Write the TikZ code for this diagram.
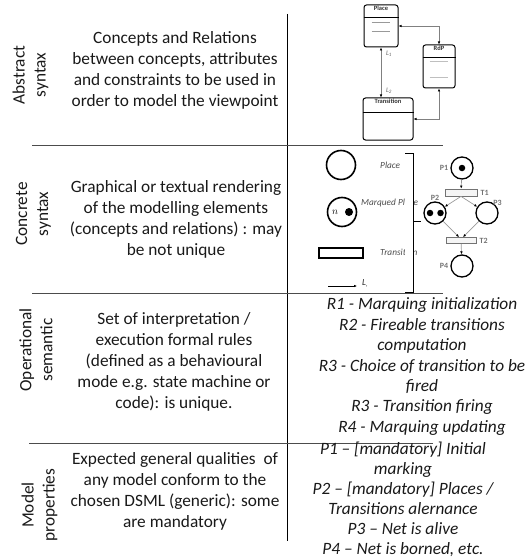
\documentclass[tikz,border=0pt]{standalone}
\usepackage{fontspec}
\setmainfont{Carlito}
\usetikzlibrary{arrows.meta,positioning,calc}

\begin{document}
\begin{tikzpicture}[x=1pt,y=-1pt,>={Latex[length=3pt,width=2.6pt,color=black]},
  txt/.style={align=center,font=\fontsize{17.3}{21}\selectfont,text=black!90},
  rules/.style={align=center,font=\fontsize{17.3}{20.4}\selectfont\itshape,text=black!90},
  side/.style={rotate=90,align=center,font=\fontsize{17.3}{21}\selectfont,text=black!90},
  sep/.style={line width=0.9pt,black!70},
  cls/.style={draw,rounded corners=2.5pt,line width=1pt,inner sep=0pt},
  ttl/.style={font=\fontsize{6.5}{7}\selectfont\bfseries,text=black!80,inner sep=1pt},
  lnk/.style={<->,black!50,line width=0.6pt},
  attr/.style={black!40,line width=0.4pt},
  big/.style={circle,draw,line width=1.6pt,minimum size=29pt,inner sep=0pt},
  small/.style={font=\fontsize{9.3}{10}\selectfont\itshape,text=black!70,inner sep=0pt},
  pl/.style={circle,draw,line width=1.3pt,minimum size=22pt,inner sep=0pt},
  tr/.style={draw=black!55,fill=black!4,line width=0.8pt,minimum width=32pt,minimum height=7pt,inner sep=0pt},
  tok/.style={circle,fill=black,minimum size=6.5pt,inner sep=0pt},
  pn/.style={font=\fontsize{8}{9}\selectfont\bfseries,text=black!55,inner sep=1pt},
  arc/.style={->,black!40,line width=0.7pt}]
\useasboundingbox (0,0) rectangle (531,559);

% table lines
\draw[line width=0.8pt] (287,14) -- (287,541);
\draw[sep] (32,145) -- (443,145);
\draw[sep] (32,293) -- (443,293);
\draw[sep] (29,443) -- (433,443);

% row titles
\node[side] (abs) at (30.5,75) {Abstract\\syntax};
\node[side] (con) at (33.5,214) {Concrete\\syntax};
\node[side] (ope) at (36,350) {Operational\\semantic};
\node[side] (mod) at (39.5,505) {Model\\properties};

% descriptions
\node[txt] (dabs) at (175,70) {Concepts and Relations\\between concepts, attributes\\and constraints to be used in\\order to model the viewpoint};
\node[txt] (dcon) at (176,219) {Graphical or textual rendering\\of the modelling elements\\(concepts and relations) : may\\be not unique};
\node[txt] (dope) at (174,362) {Set of interpretation /\\execution formal rules\\(defined as a behavioural\\mode e.g. state machine or\\code): is unique.};
\node[txt] (dmod) at (175,491) {Expected general qualities\ \ of\\any model conform to the\\chosen DSML (generic): some\\are mandatory};

% rules and properties
\node[rules] (rope) at (422,366.5) {R1 - Marquing initialization\\R2 - Fireable transitions\\computation\\R3 - Choice of transition to be\\fired\\R3 - Transition firing\\R4 - Marquing updating};
\node[rules,font=\fontsize{17.3}{20.1}\selectfont\itshape] (rmod) at (403,499.5) {P1 – [mandatory] Initial\\marking\\P2 – [mandatory] Places /\\Transitions alernance\\P3 – Net is alive\\P4 – Net is borned, etc.};

% abstract syntax: metamodel
\node[cls,minimum width=34pt,minimum height=42pt] (place) at (381,26) {};
\node[ttl,below=0.5pt of place.north] (placet) {Place};
\draw[line width=0.6pt] ($(place.north west)+(0,13)$) -- ($(place.north east)+(0,13)$);
\draw[attr] ($(place.north west)+(8,18)$) -- +(18,0);
\draw[attr] ($(place.north west)+(8,27)$) -- +(18,0);
\node[cls,minimum width=32pt,minimum height=43pt] (rdp) at (439,66.5) {};
\node[ttl,below=0.5pt of rdp.north] (rdpt) {RdP};
\draw[line width=0.6pt] ($(rdp.north west)+(0,13)$) -- ($(rdp.north east)+(0,13)$);
\draw[attr,black!25] ($(rdp.north west)+(7,17)$) -- +(18,0);
\draw[attr,black!25] ($(rdp.north west)+(7,33)$) -- +(18,0);
\node[cls,minimum width=50pt,minimum height=42pt] (trans) at (388,119) {};
\node[ttl,below=0.5pt of trans.north] (transt) {Transition};
\draw[line width=0.6pt] ($(trans.north west)+(0,15)$) -- ($(trans.north east)+(0,15)$);
\draw[lnk] (place.south) -- (place.south |- trans.north);
\draw[lnk] (place.east) -| (rdp.north);
\draw[lnk] (rdp.south) |- (trans.east);
\node[small,font=\fontsize{7}{8}\selectfont\itshape,text=black!60] (l1) at (389,54) {L\textsubscript{1}};
\node[small,font=\fontsize{7}{8}\selectfont\itshape,text=black!60] (l2) at (389,91) {L\textsubscript{2}};

% concrete syntax: symbols
\node[big] (splace) at (341,165) {};
\node[small,anchor=west] (lplace) at (380,165) {Place};
\node[big] (smarq) at (342,212) {};
\node[inner sep=0pt] (n) at (335,212) {$n$};
\node[tok,minimum size=8pt] (ntok) at (349,212) {};
\node[small,anchor=west] (lmarq) at (361,203) {Marqued Place};
\node[draw,line width=1.4pt,minimum width=44pt,minimum height=10pt,inner sep=0pt] (strans) at (341,253) {};
\node[small,anchor=west] (ltrans) at (380,252) {Transition};
\coordinate (la) at (328,286);
\coordinate (lb) at (357,286);
\draw[->,line width=0.8pt] (la) -- (lb);
\node[small,text=black!85,anchor=west] (lname) at (362,283) {L\textsubscript{,}};
\fill[white] (405,190) rectangle (412.5,262);
\draw[line width=1pt] (405,153) -- (413,153) -- (413,292) -- (405,292);
\draw[line width=1pt] (413,221) -- (421,221);

% concrete syntax: example net
\node[pl] (p1) at (462,168) {};
\node[tok] at (p1) {};
\node[pn,left=1pt of p1] (p1l) {P1};
\node[tr] (t1) at (461,192.5) {};
\node[pn,right=2pt of t1] (t1l) {T1};
\node[pl] (p2) at (435,213) {};
\node[tok] at (430,213) {};
\node[tok] at (440.5,213) {};
\node[pn,above=0pt of p2] (p2l) {P2};
\node[pl] (p3) at (487,213) {};
\node[pn,above right=-2pt and -3pt of p3] (p3l) {P3};
\node[tr,minimum width=30pt,minimum height=6pt] (t2) at (461,240.5) {};
\node[pn,right=2pt of t2] (t2l) {T2};
\node[pl] (p4) at (462,266) {};
\node[pn,left=1pt of p4] (p4l) {P4};
\draw[arc] (p1) -- (t1);
\draw[arc] (t1.south) -- (p2);
\draw[arc] (t1.south) -- (p3);
\draw[arc] (p2) -- ($(t2.north)+(-2,0)$);
\draw[arc] (p3) -- ($(t2.north)+(2,0)$);
\draw[arc] (t2) -- (p4);
\end{tikzpicture}
\end{document}
